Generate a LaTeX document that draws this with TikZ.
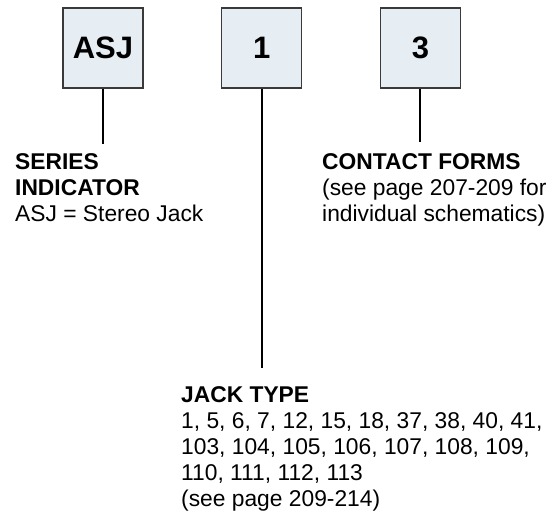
\documentclass[tikz,border=0pt]{standalone}
\usepackage{fontspec}
\setmainfont{Liberation Sans}
\usepackage{xcolor}
\usetikzlibrary{positioning}
\definecolor{partfill}{HTML}{E6EEF4}
\definecolor{partline}{HTML}{3A3A3A}
\tikzstyle{part}=[draw=partline, fill=partfill, line width=1.2pt, minimum size=80pt, font=\bfseries\fontsize{31}{32}\selectfont]
\tikzstyle{stem}=[draw=black, line width=2pt]
\tikzstyle{desc}=[anchor=north west, inner sep=0pt, align=left, font=\fontsize{22.8}{26}\selectfont]

\begin{document}
\begin{tikzpicture}[x=1pt, y=1pt, node distance = 77.5pt]
    \useasboundingbox (0,0) rectangle (558,-517);
    \node[part]                (series)  at (103,-48)        {ASJ};
    \node[part]                (jack)    [right = of series] {1};
    \node[part]                (contact) [right = of jack]   {3};

    \coordinate (seriesend)  at ([yshift=-55pt]series.south);
    \coordinate (jackend)    at ([yshift=-279pt]jack.south);
    \coordinate (contactend) at ([yshift=-53pt]contact.south);

    \node[desc] (seriestext)  at (15,-153.7)  {\textbf{SERIES}\\\textbf{INDICATOR}\\ASJ = Stereo Jack};
    \node[desc] (contacttext) at (322,-153.7) {\textbf{CONTACT FORMS}\\(see page 207-209 for\\individual schematics)};
    \node[desc] (jacktext)    at (181,-386.7) {\textbf{JACK TYPE}\\1, 5, 6, 7, 12, 15, 18, 37, 38, 40, 41,\\103, 104, 105, 106, 107, 108, 109,\\110, 111, 112, 113\\(see page 209-214)};

    \draw[stem] (series.south)  -- (seriesend);
    \draw[stem] (jack.south)    -- (jackend);
    \draw[stem] (contact.south) -- (contactend);
\end{tikzpicture}
\end{document}
